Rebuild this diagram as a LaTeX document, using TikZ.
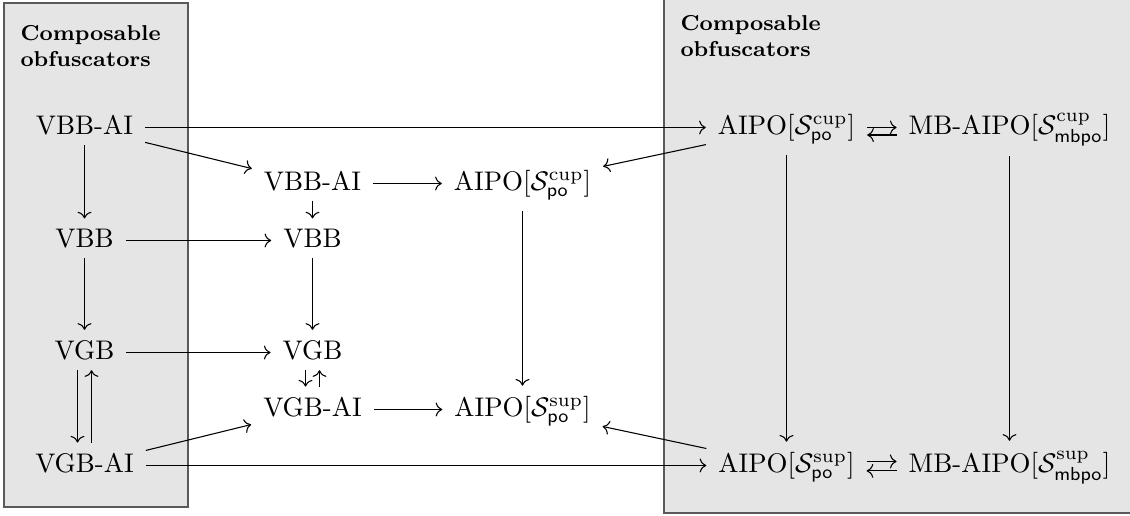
\documentclass[tikz,border=0pt]{standalone}
\usetikzlibrary{arrows.meta,cd}
\begin{document}
\begin{tikzpicture}[x=0.3717pt,y=-0.3717pt,
  obj/.style={shape=asymmetrical rectangle, inner xsep=1ex, inner ysep=0.85ex},
  arr/.style={-{Computer Modern Rightarrow}, line width=0.4pt},
  group/.style={draw=black!65, fill=black!10, line width=0.7pt},
  grouptitle/.style={font=\footnotesize\bfseries, align=left, anchor=north west, inner sep=0pt}]
\useasboundingbox (0,0) rectangle (1130,516);
% grey panels behind the two families of obfuscators
\begin{scope}
  \clip (0,0) rectangle (1130,516);
  \draw[group] (4,3) rectangle (188,507);
  \draw[group] (664,-10) rectangle (1140,513);
\end{scope}
\node[grouptitle] (ltitle) at (20,25) {Composable\\obfuscators};
\node[grouptitle] (rtitle) at (680,15) {Composable\\obfuscators};

% left column
\node[obj] (lvbbai) at (84.5,127.5) {VBB-AI};
\node[obj] (lvbb)   at (84.5,240.5) {VBB};
\node[obj] (lvgb)   at (84.5,352.5) {VGB};
\node[obj] (lvgbai) at (84.5,465.5) {VGB-AI};

% middle column
\node[obj] (mvbbai) at (312.5,183.5) {VBB-AI};
\node[obj] (mvbb)   at (312.5,240.5) {VBB};
\node[obj] (mvgb)   at (312.5,352.5) {VGB};
\node[obj] (mvgbai) at (312.5,409.5) {VGB-AI};
\node[obj] (mcup)   at (522.5,183.5) {AIPO$[\mathcal{S}^{\mathrm{cup}}_{\mathsf{po}}]$};
\node[obj] (msup)   at (522.5,409.5) {AIPO$[\mathcal{S}^{\mathrm{sup}}_{\mathsf{po}}]$};

% right column
\node[obj] (rcup)   at (786.5,127.5) {AIPO$[\mathcal{S}^{\mathrm{cup}}_{\mathsf{po}}]$};
\node[obj] (rmbcup) at (1009.5,127.5) {MB-AIPO$[\mathcal{S}^{\mathrm{cup}}_{\mathsf{mbpo}}]$};
\node[obj] (rsup)   at (786.5,465.5) {AIPO$[\mathcal{S}^{\mathrm{sup}}_{\mathsf{po}}]$};
\node[obj] (rmbsup) at (1009.5,465.5) {MB-AIPO$[\mathcal{S}^{\mathrm{sup}}_{\mathsf{mbpo}}]$};

% left column arrows
\draw[arr] (lvbbai) -- (lvbb);
\draw[arr] (lvbb) -- (lvgb);
\draw[arr] ([xshift=-2.6pt]lvgb.south) -- ([xshift=-2.6pt]lvgbai.north);
\draw[arr] ([xshift=2.6pt]lvgbai.north) -- ([xshift=2.6pt]lvgb.south);

% from the left panel
\draw[arr] (lvbbai) -- (rcup);
\draw[arr] (lvbbai) -- (mvbbai);
\draw[arr] (lvbb) -- (mvbb);
\draw[arr] (lvgb) -- (mvgb);
\draw[arr] (lvgbai) -- (mvgbai);
\draw[arr] (lvgbai) -- (rsup);

% middle
\draw[arr] (mvbbai) -- (mvbb);
\draw[arr] (mvbb) -- (mvgb);
\draw[arr] ([xshift=-2.6pt]mvgb.south) -- ([xshift=-2.6pt]mvgbai.north);
\draw[arr] ([xshift=2.6pt]mvgbai.north) -- ([xshift=2.6pt]mvgb.south);
\draw[arr] (mvbbai) -- (mcup);
\draw[arr] (mvgbai) -- (msup);
\draw[arr] (mcup) -- (msup);

% from the right panel
\draw[arr] (rcup) -- (mcup);
\draw[arr] (rsup) -- (msup);
\draw[arr] (rcup) -- (rsup);
\draw[arr] (rmbcup) -- (rmbsup);
\draw[arr] (rcup) -- (rmbcup);
\draw[arr] ([yshift=-2.8pt]rmbcup.west) -- ([yshift=-2.8pt]rcup.east);
\draw[arr] ([yshift=1.5pt]rsup.east) -- ([yshift=1.5pt]rmbsup.west);
\draw[arr] ([yshift=-2pt]rmbsup.west) -- ([yshift=-2pt]rsup.east);
\end{tikzpicture}
\end{document}
